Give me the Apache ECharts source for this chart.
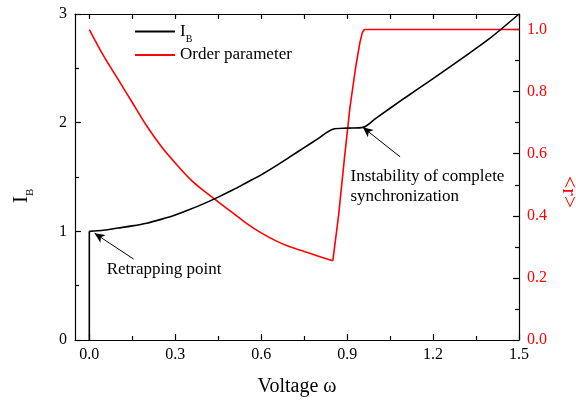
<!DOCTYPE html>
<html>
<head>
<meta charset="utf-8">
<script src="https://cdn.jsdelivr.net/npm/echarts@6/dist/echarts.min.js"></script>
<style>html,body{margin:0;padding:0;background:#fff;}#chart{width:576px;height:402px;}</style>
</head>
<body>
<div id="chart"></div>
<script>
// ---- data ----
const ibJumpVoltage = [0, 0];
const ibJumpValues  = [0, 1.0];
const ibVoltage = [0, 0.05, 0.1, 0.15, 0.2, 0.25, 0.3, 0.35, 0.4, 0.45, 0.5, 0.55, 0.6, 0.65, 0.7, 0.75, 0.8, 0.85, 0.9, 0.955, 1.0, 1.1, 1.2, 1.3, 1.4, 1.5];
const ibValues  = [1.0, 1.01, 1.03, 1.05, 1.075, 1.11, 1.15, 1.2, 1.255, 1.315, 1.38, 1.45, 1.52, 1.60, 1.685, 1.77, 1.855, 1.94, 1.95, 1.957, 2.04, 2.225, 2.405, 2.59, 2.78, 3.0];
const rVoltage = [0, 0.05, 0.1, 0.15, 0.2, 0.25, 0.3, 0.35, 0.4, 0.45, 0.5, 0.55, 0.6, 0.65, 0.7, 0.75, 0.8, 0.85];
const rValues  = [1.0, 0.915, 0.84, 0.765, 0.69, 0.625, 0.57, 0.52, 0.48, 0.445, 0.41, 0.375, 0.345, 0.32, 0.30, 0.285, 0.27, 0.255];
const rRiseVoltage = [0.85, 0.87, 0.89, 0.91, 0.93, 0.945, 0.953, 0.96, 1.5];
const rRiseValues  = [0.255, 0.40, 0.58, 0.75, 0.88, 0.96, 0.99, 1.0, 1.0];

const xTicksMajor = [0, 0.3, 0.6, 0.9, 1.2, 1.5];
const xTicksMinor = [0.15, 0.45, 0.75, 1.05, 1.35];
const xTicksTop = [0, 0.15, 0.3, 0.45, 0.6, 0.75, 0.9, 1.05, 1.2, 1.35, 1.5];
const rTicksMajor = [0, 0.2, 0.4, 0.6, 0.8, 1.0];
const rTicksMinor = [0.1, 0.3, 0.5, 0.7, 0.9];

const arrowRetrap = [[0.1545, 0.745], [0.0185, 0.982]];
const arrowInstab = [[1.085, 1.686], [0.955, 1.957]];
const labelRetrap = { text: 'Retrapping point', at: [0.059, 0.649] };
const labelInstab = { text: 'Instability of complete\nsynchronization', at: [0.91, 1.412] };

const FONT = "'Liberation Serif', 'Times New Roman', serif";
const BLACK = '#000000';
const RED = '#ff0000';

const chart = echarts.init(document.getElementById('chart'), null, { renderer: 'canvas' });

const baseX = { type: 'value', min: -0.05, max: 1.5, splitLine: { show: false } };
const baseYR = { type: 'value', min: 0, max: 1.05, splitLine: { show: false }, position: 'right' };

const option = {
  animation: false,
  backgroundColor: '#ffffff',
  grid: { left: 75, right: 57, top: 14, bottom: 62, containLabel: false, outerBoundsMode: 'none' },
  legend: {
    orient: 'vertical', left: 135, top: 23, padding: 0, itemWidth: 40, itemHeight: 2, itemGap: 2,
    icon: 'rect',
    data: ['IB', 'Order parameter'],
    formatter: function (name) { return name === 'IB' ? '{a|I}{b|B}' : '{c|Order parameter}'; },
    textStyle: {
      fontFamily: FONT, color: BLACK,
      rich: {
        a: { fontFamily: FONT, fontSize: 17, lineHeight: 26, color: BLACK },
        b: { fontFamily: FONT, fontSize: 10, lineHeight: 10, verticalAlign: 'bottom', color: BLACK },
        c: { fontFamily: FONT, fontSize: 17, lineHeight: 18, color: BLACK }
      }
    }
  },
  xAxis: [
    Object.assign({}, baseX, {
      position: 'bottom',
      name: 'Voltage ω', nameLocation: 'middle', nameGap: 37,
      nameTextStyle: { fontFamily: FONT, fontSize: 20, color: BLACK },
      axisLine: { show: true, onZero: false, lineStyle: { color: BLACK, width: 1.2 } },
      axisTick: { show: true, inside: true, length: 6, customValues: xTicksMajor, lineStyle: { color: BLACK, width: 1.2 } },
      axisLabel: { show: true, margin: 7, customValues: xTicksMajor, fontFamily: FONT, fontSize: 16, color: BLACK,
        formatter: function (v) { return v.toFixed(1); } }
    }),
    Object.assign({}, baseX, {
      position: 'bottom',
      axisLine: { show: false, onZero: false },
      axisTick: { show: true, inside: true, length: 4, customValues: xTicksMinor, lineStyle: { color: BLACK, width: 1.2 } },
      axisLabel: { show: false }
    }),
    Object.assign({}, baseX, {
      position: 'top',
      axisLine: { show: true, onZero: false, lineStyle: { color: BLACK, width: 1.2 } },
      axisTick: { show: true, inside: true, length: 5, customValues: xTicksTop, lineStyle: { color: BLACK, width: 1.2 } },
      axisLabel: { show: false }
    })
  ],
  yAxis: [
    {
      type: 'value', min: 0, max: 3, interval: 1, position: 'left',
      name: '{a|I}{b|B}', nameLocation: 'middle', nameGap: 39, nameRotate: 90,
      nameTextStyle: {
        padding: [0, 38, 0, 0],
        rich: {
          a: { fontFamily: FONT, fontSize: 22, lineHeight: 30, color: BLACK },
          b: { fontFamily: FONT, fontSize: 11, lineHeight: 12, verticalAlign: 'bottom', color: BLACK }
        }
      },
      splitLine: { show: false },
      axisLine: { show: true, onZero: false, lineStyle: { color: BLACK, width: 1.2 } },
      axisTick: { show: true, inside: true, length: 6, lineStyle: { color: BLACK, width: 1.2 } },
      minorTick: { show: true, splitNumber: 2, length: 4, lineStyle: { color: BLACK, width: 1.2 } },
      axisLabel: { margin: 8, fontFamily: FONT, fontSize: 16, color: BLACK }
    },
    Object.assign({}, baseYR, {
      name: '<r>', nameLocation: 'middle', nameGap: 37, nameRotate: -90,
      nameTextStyle: { fontFamily: FONT, fontSize: 22, color: RED, padding: [0, 0, 0, 30] },
      axisLine: { show: true, onZero: false, lineStyle: { color: BLACK, width: 1.2 } },
      axisTick: { show: true, inside: true, length: 6, customValues: rTicksMajor, lineStyle: { color: BLACK, width: 1.2 } },
      axisLabel: { show: true, margin: 8, customValues: rTicksMajor, fontFamily: FONT, fontSize: 16, color: RED,
        formatter: function (v) { return v.toFixed(1); } }
    }),
    Object.assign({}, baseYR, {
      axisLine: { show: false, onZero: false },
      axisTick: { show: true, inside: true, length: 4, customValues: rTicksMinor, lineStyle: { color: BLACK, width: 1.2 } },
      axisLabel: { show: false }
    })
  ],
  series: [
    {
      name: 'IB', type: 'line', xAxisIndex: 0, yAxisIndex: 0, symbol: 'none',
      smooth: 0.3,
      lineStyle: { color: BLACK, width: 1.6 }, itemStyle: { color: BLACK },
      data: ibVoltage.map(function (x, i) { return [x, ibValues[i]]; }),
      z: 3,
      markLine: {
        silent: true, symbol: ['none', 'arrow'], symbolSize: [7, 10],
        lineStyle: { color: BLACK, width: 1, type: 'solid' },
        label: { show: false },
        data: [
          [{ coord: arrowRetrap[0] }, { coord: arrowRetrap[1] }],
          [{ coord: arrowInstab[0] }, { coord: arrowInstab[1] }]
        ]
      },
      markPoint: {
        silent: true, symbol: 'circle', symbolSize: 1, itemStyle: { color: 'rgba(0,0,0,0)' },
        label: { show: true, position: 'right', distance: 0, fontFamily: FONT, fontSize: 17, lineHeight: 20, color: BLACK,
          formatter: function (p) { return p.name; } },
        data: [
          { name: labelRetrap.text, coord: labelRetrap.at },
          { name: labelInstab.text, coord: labelInstab.at }
        ]
      }
    },
    {
      name: 'IBJump', type: 'line', xAxisIndex: 0, yAxisIndex: 0, symbol: 'none', smooth: false,
      lineStyle: { color: BLACK, width: 1.6 }, itemStyle: { color: BLACK },
      data: ibJumpVoltage.map(function (x, i) { return [x, ibJumpValues[i]]; }),
      z: 3
    },
    {
      name: 'Order parameter', type: 'line', xAxisIndex: 0, yAxisIndex: 1, symbol: 'none',
      smooth: 0.3,
      lineStyle: { color: RED, width: 1.6 }, itemStyle: { color: RED },
      data: rVoltage.map(function (x, i) { return [x, rValues[i]]; }),
      z: 2
    },
    {
      name: 'OrderRise', type: 'line', xAxisIndex: 0, yAxisIndex: 1, symbol: 'none', smooth: false,
      lineStyle: { color: RED, width: 1.6 }, itemStyle: { color: RED },
      data: rRiseVoltage.map(function (x, i) { return [x, rRiseValues[i]]; }),
      z: 2
    }
  ]
};
chart.setOption(option);
</script>
</body>
</html>
